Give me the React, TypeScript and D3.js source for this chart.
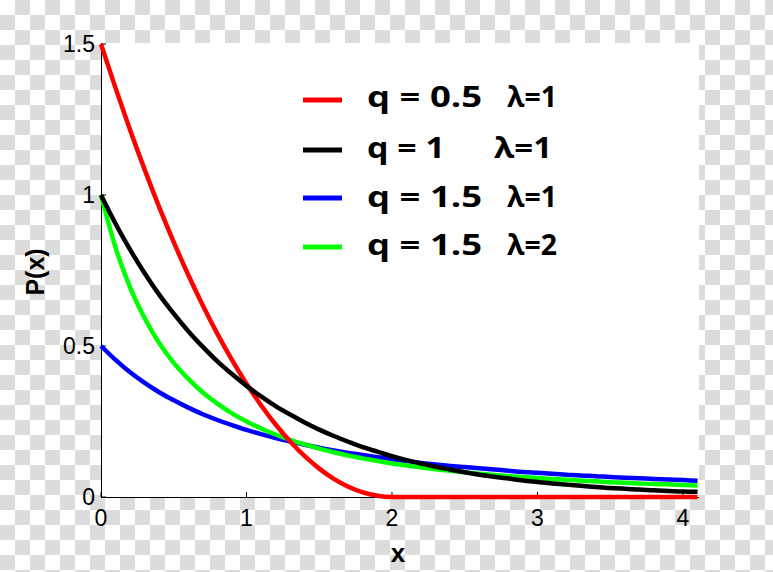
import React from "react";
import * as d3 from "d3";

const xs = [0, 0.1, 0.2, 0.3, 0.4, 0.5, 0.6, 0.7, 0.8, 0.9, 1.0, 1.1, 1.2, 1.3, 1.4, 1.5, 1.6, 1.7, 1.8, 1.9, 2.0,
  2.1, 2.2, 2.3, 2.4, 2.5, 2.6, 2.7, 2.8, 2.9, 3.0, 3.1, 3.2, 3.3, 3.4, 3.5, 3.6, 3.7, 3.8, 3.9, 4.0, 4.1];

const redVals = [1.5, 1.354, 1.215, 1.084, 0.96, 0.844, 0.735, 0.634, 0.54, 0.454, 0.375, 0.304, 0.24, 0.184, 0.135,
  0.094, 0.06, 0.034, 0.015, 0.004, 0, 0, 0, 0, 0, 0, 0, 0, 0, 0, 0, 0, 0, 0, 0, 0, 0, 0, 0, 0, 0, 0];
const blackVals = [1, 0.905, 0.819, 0.741, 0.67, 0.607, 0.549, 0.497, 0.449, 0.407, 0.368, 0.333, 0.301, 0.273, 0.247,
  0.223, 0.202, 0.183, 0.165, 0.15, 0.135, 0.122, 0.111, 0.1, 0.091, 0.082, 0.074, 0.067, 0.061, 0.055, 0.05,
  0.045, 0.041, 0.037, 0.033, 0.03, 0.027, 0.025, 0.022, 0.02, 0.018, 0.017];
const blueVals = [0.5, 0.454, 0.413, 0.378, 0.347, 0.32, 0.296, 0.274, 0.255, 0.238, 0.222, 0.208, 0.195, 0.184, 0.173,
  0.163, 0.154, 0.146, 0.139, 0.132, 0.125, 0.119, 0.113, 0.108, 0.103, 0.099, 0.095, 0.091, 0.087, 0.083, 0.08,
  0.077, 0.074, 0.071, 0.069, 0.066, 0.064, 0.062, 0.06, 0.058, 0.056, 0.054];
const greenVals = [1, 0.826, 0.694, 0.592, 0.51, 0.444, 0.391, 0.346, 0.309, 0.277, 0.25, 0.227, 0.207, 0.189, 0.174,
  0.16, 0.148, 0.137, 0.128, 0.119, 0.111, 0.104, 0.098, 0.092, 0.087, 0.082, 0.077, 0.073, 0.069, 0.066, 0.063,
  0.06, 0.057, 0.054, 0.052, 0.049, 0.047, 0.045, 0.043, 0.042, 0.04, 0.038];

const xTicks = [0, 1, 2, 3, 4];
const yTicks = [0, 0.5, 1, 1.5];

const legendQ = ["q = 0.5", "q = 1", "q = 1.5", "q = 1.5"];
const legendL = ["λ=1", "λ=1", "λ=1", "λ=2"];
const legendColors = ["#ff0000", "#000000", "#0000ff", "#00ff00"];

// drawing order (bottom to top)
const seriesOrder = [
  { vals: blueVals, color: "#0000ff" },
  { vals: greenVals, color: "#00ff00" },
  { vals: redVals, color: "#ff0000" },
  { vals: blackVals, color: "#000000" },
];

export default function App() {
  const W = 773, H = 572;
  const left = 101, right = 699, top = 43, bottom = 497;
  const x = d3.scaleLinear().domain([0, 4.11]).range([left, right]);
  const y = d3.scaleLinear().domain([0, 1.5]).range([bottom, 44]);
  const line = d3.line<number>()
    .x((_, i) => x(xs[i]))
    .y((d) => y(d))
    .curve(d3.curveMonotoneX);

  const legendY = [100, 150, 198, 247];
  const legendBase = [107, 158, 207, 255];
  const qLen = [115, 78, 115, 115];
  const lX = [507, 494, 507, 507];
  const lLen = [50, 58, 50, 50];

  return (
    <svg width={W} height={H} style={{ position: "absolute", left: 0, top: 0 }}>
      <defs>
        <pattern id="checker" width={30} height={30} patternUnits="userSpaceOnUse">
          <rect x={0} y={0} width={30} height={30} fill="#ffffff" />
          <rect x={15} y={0} width={15} height={15} fill="#dcdcdc" />
          <rect x={0} y={15} width={15} height={15} fill="#dcdcdc" />
        </pattern>
      </defs>
      <rect x={0} y={0} width={W} height={H} fill="url(#checker)" />
      <rect x={left} y={top} width={right - left} height={bottom - top} fill="#ffffff" />

      {/* axes */}
      <line x1={left + 0.5} y1={top} x2={left + 0.5} y2={bottom} stroke="#000" strokeWidth={1} />
      <line x1={left} y1={bottom + 0.5} x2={right} y2={bottom + 0.5} stroke="#000" strokeWidth={1} />
      {xTicks.map((t) => (
        <g key={"xt" + t}>
          <line x1={x(t)} x2={x(t)} y1={bottom} y2={bottom - 5} stroke="#000" strokeWidth={1} />
          <text x={x(t)} y={526} textAnchor="middle" fontFamily="'Liberation Sans', Arial, sans-serif" fontSize={23} fill="#000">{t}</text>
        </g>
      ))}
      {yTicks.map((t) => (
        <g key={"yt" + t}>
          <line x1={left} x2={left + 5} y1={y(t)} y2={y(t)} stroke="#000" strokeWidth={1} />
          <text x={95} y={y(t) + 8} textAnchor="end" fontFamily="'Liberation Sans', Arial, sans-serif" fontSize={23} fill="#000">{t}</text>
        </g>
      ))}

      {/* series */}
      {seriesOrder.map((s, i) => (
        <path key={"s" + i} d={line(s.vals) || ""} fill="none" stroke={s.color} strokeWidth={4.5} strokeLinejoin="round" />
      ))}

      {/* axis labels */}
      <text x={398} y={562} textAnchor="middle" fontFamily="'Liberation Sans', Arial, sans-serif" fontWeight="bold" fontSize={26} fill="#000">x</text>
      <text transform="translate(44,272) rotate(-90)" textAnchor="middle" fontFamily="'Liberation Sans', Arial, sans-serif" fontWeight="bold" fontSize={25} fill="#000">P(x)</text>

      {/* legend */}
      {legendQ.map((q, i) => (
        <g key={"lg" + i}>
          <line x1={303} x2={342} y1={legendY[i]} y2={legendY[i]} stroke={legendColors[i]} strokeWidth={5} />
          <text x={367} y={legendBase[i]} fontFamily="'Open Sans', sans-serif" fontWeight="bold" fontSize={28} fill="#000"
            textLength={qLen[i]} lengthAdjust="spacingAndGlyphs">{q}</text>
          <text x={lX[i]} y={legendBase[i]} fontFamily="'Open Sans', sans-serif" fontWeight="bold" fontSize={28} fill="#000"
            textLength={lLen[i]} lengthAdjust="spacingAndGlyphs">{legendL[i]}</text>
        </g>
      ))}
    </svg>
  );
}
